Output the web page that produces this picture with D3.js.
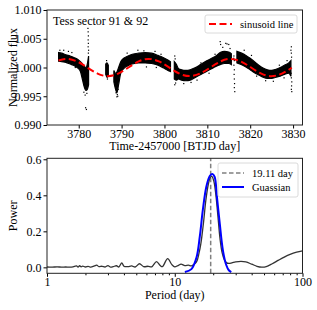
<!DOCTYPE html>
<html>
<head>
<meta charset="utf-8">
<script src="https://cdn.jsdelivr.net/npm/d3@7/dist/d3.min.js"></script>
<style>
  body { margin: 0; background: #fff; }
  svg { display: block; font-family: "Liberation Serif", "Times New Roman", serif; }
  .tick text { font-family: "Liberation Serif", serif; font-size: 12px; fill: #000; }
  .tick line { stroke: #000; }
</style>
</head>
<body>
<div id="chart"></div>
<script>
// light curve: dense band per segment (time, lower, upper)
const bandSegments = [
  [[3775.3, 1.0011, 1.0026], [3776.0, 1.0010, 1.0025], [3777.0, 1.0009, 1.0022], [3778.0, 1.0006, 1.0020],
   [3779.0, 1.0003, 1.0017], [3779.8, 0.9999, 1.0014], [3780.4, 0.9993, 1.0010], [3780.9, 0.9978, 1.0006],
   [3781.3, 0.9966, 1.0002], [3781.7, 0.9960, 1.0000], [3782.0, 0.9962, 1.0006], [3782.3, 0.9970, 1.0020]],
  [[3786.3, 0.9988, 1.0006], [3786.6, 0.9983, 1.0008], [3786.9, 0.9985, 1.0004]],
  [[3788.2, 0.9975, 0.9995], [3788.6, 0.9962, 0.9990], [3788.9, 0.9956, 0.9992], [3789.3, 0.9970, 1.0000],
   [3789.8, 0.9990, 1.0010], [3790.5, 0.9998, 1.0016], [3791.5, 1.0003, 1.0020], [3792.5, 1.0006, 1.0023],
   [3794.0, 1.0008, 1.0025], [3795.5, 1.0008, 1.0026], [3797.0, 1.0007, 1.0025], [3798.5, 1.0004, 1.0021],
   [3799.8, 0.9999, 1.0017], [3800.8, 0.9995, 1.0013], [3801.4, 0.9993, 1.0010]],
  [[3802.3, 0.9980, 1.0010], [3802.8, 0.9978, 1.0005], [3803.3, 0.9980, 0.9998], [3804.0, 0.9978, 0.9996],
   [3805.0, 0.9977, 0.9995], [3806.0, 0.9978, 0.9996], [3807.0, 0.9982, 0.9999], [3808.0, 0.9986, 1.0003],
   [3809.0, 0.9990, 1.0008], [3810.0, 0.9994, 1.0012], [3811.0, 0.9998, 1.0016], [3812.0, 1.0002, 1.0020],
   [3813.0, 1.0005, 1.0026], [3814.0, 1.0007, 1.0028], [3815.0, 1.0007, 1.0027], [3815.6, 1.0005, 1.0024]],
  [[3816.9, 1.0008, 1.0028], [3818.0, 1.0005, 1.0025], [3819.0, 1.0001, 1.0021], [3820.0, 0.9996, 1.0016],
   [3821.0, 0.9991, 1.0010], [3822.0, 0.9987, 1.0004], [3823.0, 0.9983, 0.9999], [3824.0, 0.9981, 0.9996],
   [3825.0, 0.9981, 0.9995], [3826.0, 0.9983, 0.9997], [3827.0, 0.9985, 1.0000], [3828.0, 0.9988, 1.0004],
   [3829.0, 0.9990, 1.0008], [3829.5, 0.9985, 1.0012]]
];

// scattered points outside the band
const outlierT = [3782.15, 3782.2, 3782.25, 3782.2, 3782.25, 3782.2, 3782.3, 3782.25, 3781.6, 3781.8,
  3781.5, 3781.9, 3781.2, 3788.9, 3789.0, 3788.7, 3786.5, 3786.7, 3802.4, 3802.5, 3802.6, 3802.4,
  3813.0, 3813.1, 3814.3, 3814.6, 3815.0, 3813.6, 3815.3, 3816.2, 3816.3, 3816.2, 3816.3, 3816.25,
  3816.3, 3816.35, 3816.3, 3816.4, 3816.15, 3829.6, 3829.5, 3829.6, 3829.65, 3829.6, 3829.7, 3829.65,
  3829.6, 3829.7, 3829.55, 3776.5, 3778.4, 3779.2, 3791.3, 3793.8, 3795.2, 3797.8, 3799.2, 3795.8,
  3798.1, 3804.5, 3806.2, 3807.6, 3808.5, 3810.4, 3811.8, 3818.6, 3820.3, 3821.5, 3823.6, 3825.4,
  3826.8, 3827.9, 3828.6, 3775.6, 3777.6, 3789.1, 3789.2];
const outlierF = [1.0068, 1.0062, 1.0055, 1.0048, 1.0042, 1.0036, 1.0030, 1.0025, 0.9930, 0.9927,
  0.9952, 0.9955, 0.9957, 0.9949, 0.9953, 0.9956, 1.0012, 0.9980, 1.0020, 1.0015, 0.9973, 0.9970,
  1.0045, 1.0040, 1.0042, 1.0041, 1.0040, 1.0035, 1.0033, 1.0020, 1.0012, 1.0004, 0.9996, 0.9988,
  0.9980, 0.9972, 0.9965, 0.9958, 1.0016, 1.0036, 1.0030, 1.0025, 1.0018, 0.9982, 0.9975, 0.9968,
  0.9962, 0.9958, 0.9990, 1.0030, 1.0026, 1.0000, 1.0025, 1.0030, 1.0029, 1.0028, 1.0023, 1.0001,
  1.0000, 0.9972, 0.9974, 0.9978, 1.0008, 0.9990, 1.0023, 1.0030, 1.0021, 0.9985, 0.9977, 0.9976,
  1.0004, 0.9982, 1.0012, 1.0030, 1.0028, 0.9950, 0.9962];

// red dashed sinusoid fit
const sineT = [3775.3, 3777.2, 3779.6, 3782.0, 3784.4, 3786.8, 3789.2, 3791.6, 3794.0, 3796.3, 3798.7,
  3801.1, 3803.5, 3805.9, 3808.3, 3810.7, 3813.1, 3815.4, 3817.8, 3820.2, 3822.6, 3825.0, 3827.4, 3829.7];
const sineF = [1.00122, 1.0015, 1.00106, 1.0000, 0.99894, 0.9985, 0.99894, 1.0000, 1.00106, 1.0015, 1.00106,
  1.0000, 0.99894, 0.9985, 0.99894, 1.0000, 1.00106, 1.0015, 1.00106, 1.0000, 0.99894, 0.9985, 0.99894, 0.99995];

const fluxTicks = [0.990, 0.995, 1.000, 1.005, 1.010];
const timeTicks = [3780, 3790, 3800, 3810, 3820, 3830];

// periodogram
const period = [1.0, 1.1, 1.2, 1.3, 1.4, 1.5, 1.6, 1.7, 1.75, 1.8, 1.85, 1.9, 2.0, 2.1, 2.2, 2.35, 2.45, 2.55,
  2.7, 2.85, 3.0, 3.15, 3.3, 3.5, 3.65, 3.85, 4.0, 4.3, 4.6, 4.9, 5.3, 5.7, 6.2, 6.6, 7.2, 7.7, 8.0, 8.8,
  9.5, 10.0, 10.6, 11.2, 12.0, 12.8, 13.5, 14.0, 14.8, 15.5, 16.0, 16.8, 17.5, 18.3, 19.0, 19.5, 20.2,
  21.0, 21.8, 22.6, 23.5, 24.5, 25.5, 26.5, 28, 30, 33, 36, 40, 44, 48, 52, 58, 65, 72, 80, 90, 100];
const power = [0.002, 0.001, 0.003, 0.001, 0.002, 0.001, 0.003, 0.008, 0.002, 0.009, 0.003, 0.007, 0.002,
  0.006, 0.001, 0.008, 0.012, 0.004, 0.006, 0.002, 0.010, 0.001, 0.004, 0.009, 0.002, 0.025, 0.006, 0.004,
  0.008, 0.002, 0.020, 0.004, 0.006, 0.003, 0.032, 0.010, 0.004, 0.048, 0.015, 0.003, 0.010, 0.018, 0.010,
  0.012, 0.008, 0.015, 0.030, 0.08, 0.13, 0.25, 0.37, 0.46, 0.50, 0.505, 0.48, 0.40, 0.28, 0.16, 0.08,
  0.04, 0.025, 0.022, 0.025, 0.030, 0.033, 0.030, 0.018, 0.006, 0.001, 0.004, 0.020, 0.040, 0.057, 0.072,
  0.084, 0.091];

const gaussP = [12.0, 13.5, 14.8, 15.7, 16.6, 17.7, 18.8, 19.7, 20.5, 21.4, 22.5, 23.8, 25.3, 26.5, 27.7];
const gaussPow = [-0.026, -0.010, 0.055, 0.17, 0.32, 0.45, 0.507, 0.518, 0.503, 0.39, 0.244, 0.096, 0.013, -0.016, -0.026];

const peakPeriod = 19.11;
const powerTicks = [0.0, 0.2, 0.4, 0.6];
const periodMajor = [1, 10, 100];
const periodMinor = [2, 3, 4, 5, 6, 7, 8, 9, 20, 30, 40, 50, 60, 70, 80, 90];

const W = 317, H = 310;
const svg = d3.select('#chart').append('svg').attr('width', W).attr('height', H);

const left = 47, right = 302.5;

// ---------- top panel ----------
const x1 = d3.scaleLinear().domain([3772.6, 3832.2]).range([left, right]);
const y1 = d3.scaleLinear().domain([0.990, 1.010]).range([125, 10]);

const lc = svg.append('g');
lc.append('g')
  .attr('transform', 'translate(0,125)')
  .call(d3.axisBottom(x1).tickValues(timeTicks).tickSize(3.5).tickPadding(0.5).tickFormat(d3.format('d')))
  .call(g => g.select('.domain').remove());
lc.append('g')
  .attr('transform', `translate(${left},0)`)
  .call(d3.axisLeft(y1).tickValues(fluxTicks).tickSize(3.5).tickPadding(2).tickFormat(d3.format('.3f')))
  .call(g => g.select('.domain').remove());

const band = d3.area().x(d => x1(d[0])).y0(d => y1(d[1])).y1(d => y1(d[2])).curve(d3.curveMonotoneX);
lc.selectAll('path.band').data(bandSegments).join('path')
  .attr('class', 'band')
  .attr('d', band)
  .attr('fill', '#000')
  .attr('stroke', '#000')
  .attr('stroke-width', 1.2);

lc.selectAll('rect.pt').data(outlierT.map((t, i) => [t, outlierF[i]])).join('rect')
  .attr('class', 'pt')
  .attr('x', d => x1(d[0]) - 0.6)
  .attr('y', d => y1(d[1]) - 0.6)
  .attr('width', 1.2)
  .attr('height', 1.2)
  .attr('fill', '#000');

const sineLine = d3.line().x(d => x1(d[0])).y(d => y1(d[1])).curve(d3.curveNatural);
lc.append('path')
  .datum(sineT.map((t, i) => [t, sineF[i]]))
  .attr('d', sineLine)
  .attr('fill', 'none')
  .attr('stroke', '#ff0000')
  .attr('stroke-width', 2)
  .attr('stroke-dasharray', '7,3.5');

lc.append('rect')
  .attr('x', left).attr('y', 10).attr('width', right - left).attr('height', 115)
  .attr('fill', 'none').attr('stroke', '#222').attr('stroke-width', 1);

lc.append('text').attr('x', 53).attr('y', 25).attr('font-size', 12).text('Tess sector 91 & 92');

// legend (top)
lc.append('rect').attr('x', 205).attr('y', 15).attr('width', 92).attr('height', 18).attr('rx', 2)
  .attr('fill', '#fff').attr('fill-opacity', 0.8).attr('stroke', '#d0d0d0').attr('stroke-width', 0.8);
lc.append('line').attr('x1', 209).attr('x2', 232).attr('y1', 24).attr('y2', 24)
  .attr('stroke', '#ff0000').attr('stroke-width', 2).attr('stroke-dasharray', '7,3.5');
lc.append('text').attr('x', 240).attr('y', 28).attr('font-size', 10.5).text('sinusoid line');

lc.append('text').attr('x', (left + right) / 2).attr('y', 150).attr('text-anchor', 'middle')
  .attr('font-size', 12).text('Time-2457000 [BTJD day]');
lc.append('text').attr('transform', `translate(16.5,${(10 + 125) / 2}) rotate(-90)`)
  .attr('text-anchor', 'middle').attr('font-size', 12).text('Normalized flux');

// ---------- bottom panel ----------
const yTop2 = 158.3, yBot2 = 273.3;
const x2 = d3.scaleLog().domain([1, 100]).range([left, right]);
const y2 = d3.scaleLinear().domain([-0.033, 0.6055]).range([yBot2, yTop2]);

const pg = svg.append('g');
pg.append('g')
  .attr('transform', `translate(0,${yBot2})`)
  .call(d3.axisBottom(x2).tickValues(periodMinor).tickSize(2).tickFormat(''))
  .call(g => g.select('.domain').remove());
pg.append('g')
  .attr('transform', `translate(0,${yBot2})`)
  .call(d3.axisBottom(x2).tickValues(periodMajor).tickSize(3.5).tickPadding(1).tickFormat(d3.format('d')))
  .call(g => g.select('.domain').remove());
pg.append('g')
  .attr('transform', `translate(${left},0)`)
  .call(d3.axisLeft(y2).tickValues(powerTicks).tickSize(3.5).tickPadding(2).tickFormat(d3.format('.1f')))
  .call(g => g.select('.domain').remove());

const pLine = d3.line().x(d => x2(d[0])).y(d => y2(d[1])).curve(d3.curveCatmullRom);

pg.append('line')
  .attr('x1', x2(peakPeriod)).attr('x2', x2(peakPeriod)).attr('y1', yBot2).attr('y2', yTop2)
  .attr('stroke', '#808080').attr('stroke-width', 1.5).attr('stroke-dasharray', '4.5,2.5');

pg.append('path')
  .datum(period.map((p, i) => [p, power[i]]))
  .attr('d', pLine)
  .attr('fill', 'none').attr('stroke', '#333').attr('stroke-width', 1.3);

pg.append('path')
  .datum(gaussP.map((p, i) => [p, gaussPow[i]]))
  .attr('d', pLine)
  .attr('fill', 'none').attr('stroke', '#0000ff').attr('stroke-width', 2);

pg.append('rect')
  .attr('x', left).attr('y', yTop2).attr('width', right - left).attr('height', yBot2 - yTop2)
  .attr('fill', 'none').attr('stroke', '#222').attr('stroke-width', 1);

// legend (bottom)
pg.append('rect').attr('x', 218).attr('y', 163).attr('width', 80).attr('height', 34).attr('rx', 2)
  .attr('fill', '#fff').attr('fill-opacity', 0.8).attr('stroke', '#d0d0d0').attr('stroke-width', 0.8);
pg.append('line').attr('x1', 222).attr('x2', 244).attr('y1', 173).attr('y2', 173)
  .attr('stroke', '#808080').attr('stroke-width', 1.5).attr('stroke-dasharray', '4.5,2.5');
pg.append('text').attr('x', 252).attr('y', 177).attr('font-size', 10.5).text('19.11 day');
pg.append('line').attr('x1', 222).attr('x2', 244).attr('y1', 187).attr('y2', 187)
  .attr('stroke', '#0000ff').attr('stroke-width', 2);
pg.append('text').attr('x', 252).attr('y', 191).attr('font-size', 10.5).text('Guassian');

pg.append('text').attr('x', (left + right) / 2).attr('y', 299).attr('text-anchor', 'middle')
  .attr('font-size', 12).text('Period (day)');
pg.append('text').attr('transform', `translate(16.5,${(yTop2 + yBot2) / 2}) rotate(-90)`)
  .attr('text-anchor', 'middle').attr('font-size', 12).text('Power');
</script>
</body>
</html>
